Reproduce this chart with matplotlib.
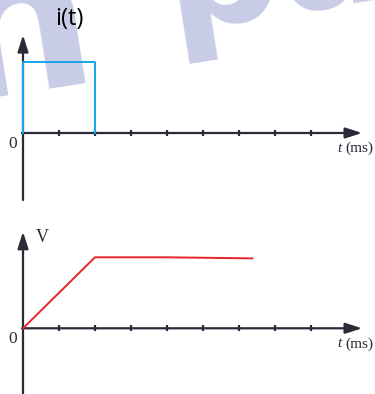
import numpy as np
import matplotlib
matplotlib.use("Agg")
import matplotlib.pyplot as plt

# data: current pulse and capacitor voltage (arbitrary units, t in ms)
t_i = [0, 0, 2, 2]
i_val = [0, 1, 1, 0]
t_v = [0, 2, 4, 6.37]
v_val = [0, 1, 1, 0.985]
ticks = [1, 2, 3, 4, 5, 6, 7, 8]

axis_col = '#2a2a38'
W, H = 375, 394
fig = plt.figure(figsize=(W / 100, H / 100), dpi=100)

# watermark in the background
wm = '#c9cce6'
fig.text(150 / W, 1 - 30 / H, 'pa', fontsize=118, fontweight='bold', color=wm,
         rotation=9, ha='left', va='baseline', zorder=-5, family='DejaVu Sans')
fig.text(-70 / W, 1 - 100 / H, 'n', fontsize=150, fontweight='bold', color=wm,
         rotation=9, ha='left', va='baseline', zorder=-5, family='DejaVu Sans')

# pixel geometry: origin x=23px, 36 px per ms, 71 px per unit
x0, dx, dy = 23, 36, 71
xlim = (-x0 / dx, (W - x0) / dx)


def draw_axes(ax, y_axis_px, top_px, bot_px, y_tip):
    ax.set_facecolor('none')
    ax.set_xlim(*xlim)
    ax.set_ylim(-(bot_px - y_axis_px) / dy, (y_axis_px - top_px) / dy)
    ax.axis('off')
    ymin = ax.get_ylim()[0]
    arr = dict(arrowstyle='-|>,head_length=1.0,head_width=0.32', color=axis_col,
               lw=1.6, shrinkA=0, shrinkB=0)
    ax.annotate('', xy=(9.42, 0), xytext=(-0.03, 0), arrowprops=arr)
    ax.annotate('', xy=(0, y_tip), xytext=(0, ymin), arrowprops=arr)
    ax.plot(ticks, np.zeros(len(ticks)), ls='none', marker='|', ms=5, mew=1.6,
            color=axis_col)


ax1 = fig.add_axes([0, 1 - 200 / H, 1, 200 / H])
draw_axes(ax1, 133, 0, 200, 1.38)
ax1.plot(t_i, i_val, color='#18a6ec', lw=1.4, zorder=3)

ax2 = fig.add_axes([0, 0, 1, 194 / H])
draw_axes(ax2, 328.3, 200, 394, 1.36)
ax2.plot(t_v, v_val, color='#e8242b', lw=1.4, zorder=3)

serif = 'Liberation Serif'
for ax in (ax1, ax2):
    ax.text(-0.28, -0.15, '0', family=serif, fontsize=12.5, ha='center', va='center',
            color=axis_col)
    ax.text(9.74, -0.22, '(ms)', family=serif, fontsize=11, ha='right', va='center',
            color=axis_col)
    ax.text(8.86, -0.22, 't', family=serif, style='italic', fontsize=11, ha='right',
            va='center', color=axis_col)

ax1.text(0.88, 1.6, 'i(t)', family='Open Sans', fontsize=17, ha='left', va='center',
         color='black')
ax2.text(0.36, 1.28, 'V', family=serif, fontsize=13, ha='left', va='center',
         color=axis_col)

fig.savefig('out.png', dpi=100)
